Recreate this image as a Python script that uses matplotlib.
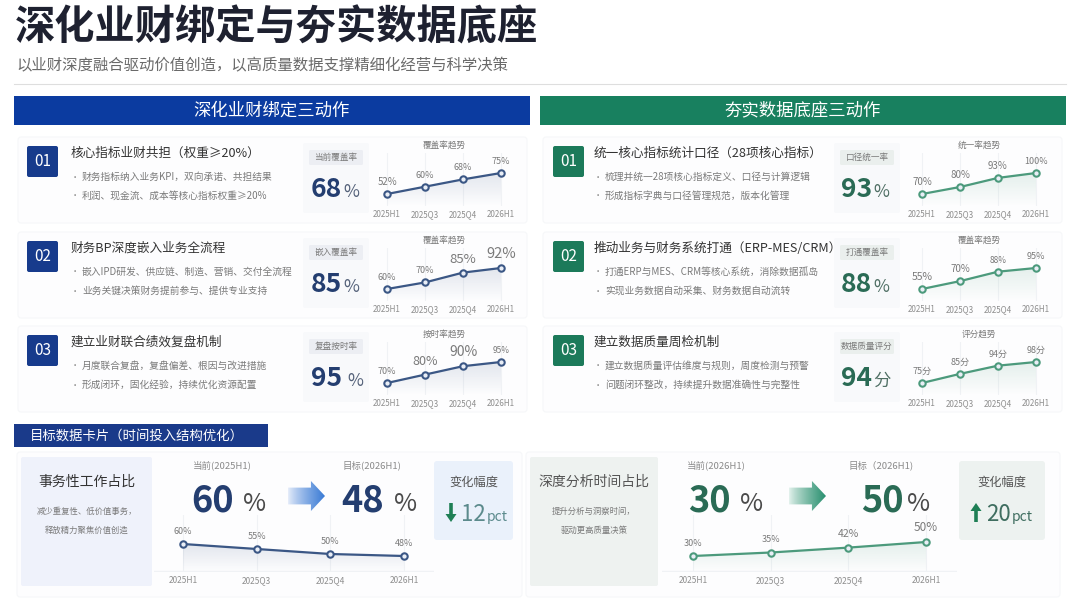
import numpy as np
import matplotlib
matplotlib.use('Agg')
import matplotlib.pyplot as plt
from matplotlib.patches import Rectangle, FancyBboxPatch, Polygon, FancyArrow
from matplotlib.colors import to_rgb

plt.rcParams['font.family'] = ['Noto Sans CJK SC', 'DejaVu Sans']

# ---- data ----
periods = ['2025H1', '2025Q3', '2025Q4', '2026H1']

left_titles = ['核心指标业财共担（权重≥20%）', '财务BP深度嵌入业务全流程', '建立业财联合绩效复盘机制']
left_bullets = [['财务指标纳入业务KPI，双向承诺、共担结果', '利润、现金流、成本等核心指标权重≥20%'],
                ['嵌入IPD研发、供应链、制造、营销、交付全流程', '业务关键决策财务提前参与、提供专业支持'],
                ['月度联合复盘，复盘偏差、根因与改进措施', '形成闭环，固化经验，持续优化资源配置']]
left_metric_names = ['当前覆盖率', '嵌入覆盖率', '复盘按时率']
left_metric_values = [68, 85, 95]
left_trend_titles = ['覆盖率趋势', '覆盖率趋势', '按时率趋势']
left_trends = [[52, 60, 68, 75], [60, 70, 85, 92], [70, 80, 90, 95]]

right_titles = ['统一核心指标统计口径（28项核心指标）', '推动业务与财务系统打通（ERP-MES/CRM）', '建立数据质量周检机制']
right_bullets = [['梳理并统一28项核心指标定义、口径与计算逻辑', '形成指标字典与口径管理规范，版本化管理'],
                 ['打通ERP与MES、CRM等核心系统，消除数据孤岛', '实现业务数据自动采集、财务数据自动流转'],
                 ['建立数据质量评估维度与规则，周度检测与预警', '问题闭环整改，持续提升数据准确性与完整性']]
right_metric_names = ['口径统一率', '打通覆盖率', '数据质量评分']
right_metric_values = [93, 88, 94]
right_units = ['%', '%', '分']
right_trend_titles = ['统一率趋势', '覆盖率趋势', '评分趋势']
right_trends = [[70, 80, 93, 100], [55, 70, 88, 95], [75, 85, 94, 98]]

routine_share = [60, 55, 50, 48]     # 事务性工作占比
analysis_share = [30, 35, 42, 50]    # 深度分析时间占比

# ---- colors ----
blue_head = '#0b3ba0'
blue_badge = '#173b8c'
blue_num = '#243e70'
blue_line = '#3b5785'
green_head = '#18805f'
green_badge = '#1c7a5a'
green_num = '#2a6b55'
green_line = '#4c9a7c'
gray_txt = '#7a7a7a'

W, H = 1080, 607
fig = plt.figure(figsize=(W / 100, H / 100), dpi=100)
bg = fig.add_axes([0, 0, 1, 1])
bg.set_autoscale_on(False)
bg.set_xlim(0, W)
bg.set_ylim(H, 0)
bg.axis('off')


def px_axes(x0, y0, x1, y1):
    return fig.add_axes([x0 / W, 1 - y1 / H, (x1 - x0) / W, (y1 - y0) / H])


def box(x0, y0, x1, y1, color, ec='none', rad=0, z=1):
    if rad:
        p = FancyBboxPatch((x0 + rad, y0 + rad), x1 - x0 - 2 * rad, y1 - y0 - 2 * rad,
                           boxstyle='round,pad=%g' % rad, fc=color, ec=ec, lw=0.8, zorder=z)
    else:
        p = Rectangle((x0, y0), x1 - x0, y1 - y0, fc=color, ec=ec, lw=0.8, zorder=z)
    bg.add_patch(p)


def grad_arrow(x0, x1, yc, h, c0, c1):
    w = x1 - x0
    verts = [(x0, yc - h * 0.28), (x0 + w * 0.62, yc - h * 0.28), (x0 + w * 0.62, yc - h * 0.5),
             (x1, yc), (x0 + w * 0.62, yc + h * 0.5), (x0 + w * 0.62, yc + h * 0.28),
             (x0, yc + h * 0.28)]
    poly = Polygon(verts, closed=True, fc='none', ec='none')
    bg.add_patch(poly)
    n = 100
    a, b = np.array(to_rgb(c0)), np.array(to_rgb(c1))
    t = np.linspace(0, 1, n) ** 0.8
    img = (a[None, :] * (1 - t[:, None]) + b[None, :] * t[:, None])[None, :, :]
    im = bg.imshow(img, extent=(x0, x1, yc + h / 2, yc - h / 2), aspect='auto', zorder=3)
    im.set_clip_path(poly)


def trend(x0, step, top, bottom, px_lo, px_hi, values, color, unit='%',
          sizes=None, tick_size=5.8, baseline=False, off=5):
    n = len(values)
    ax = px_axes(x0 - 0.4 * step, top, x0 + (n - 1 + 0.4) * step, bottom)
    vmin, vmax = min(values), max(values)
    k = (vmax - vmin) / (px_lo - px_hi)
    lo, hi = vmin - (bottom - px_lo) * k, vmax + (px_hi - top) * k
    xs = np.arange(n)
    for x in xs:
        ax.axvline(x, color='#f0f2f5', lw=0.8, zorder=0)
    if baseline:
        ax.axhline(lo + (hi - lo) * 0.01, color='#f0f2f5', lw=1.0, zorder=0)
    # soft gradient under the line
    verts = [(xs[0], lo)] + list(zip(xs, values)) + [(xs[-1], lo)]
    poly = Polygon(verts, closed=True, fc='none', ec='none')
    ax.add_patch(poly)
    rgba = np.zeros((100, 1, 4))
    rgba[..., :3] = to_rgb(color)
    rgba[..., 3] = np.linspace(0, 0.14, 100)[:, None]
    im = ax.imshow(rgba, extent=(xs[0], xs[-1], lo, vmax), aspect='auto', origin='lower', zorder=1)
    im.set_clip_path(poly)
    ax.plot(xs, values, color=color, lw=1.6, marker='o', ms=4.6, mfc='#e9eef6',
            mec=color, mew=1.5, zorder=3)
    if sizes is None:
        sizes = [6.5] * n
    for x, v, s in zip(xs, values, sizes):
        ax.annotate(f'{v}{unit}', (x, v), xytext=(0, off), textcoords='offset points',
                    ha='center', va='bottom', fontsize=s, color=gray_txt)
    ax.set_xlim(-0.4, n - 1 + 0.4)
    ax.set_ylim(lo, hi)
    ax.set_xticks(xs, periods, fontsize=tick_size, color='#8e8e8e')
    ax.tick_params(length=0, pad=3)
    ax.set_yticks([])
    for s in ax.spines.values():
        s.set_visible(False)
    ax.patch.set_alpha(0)
    return ax


# ---- title ----
bg.text(15, 28, '深化业财绑定与夯实数据底座', fontsize=29, fontweight='bold',
        color='#1e2130', va='center')
bg.text(16, 66, '以业财深度融合驱动价值创造，以高质量数据支撑精细化经营与科学决策',
        fontsize=11.1, color='#6a6a6a', va='center')
bg.plot([14, 1066], [84, 84], color='#dedede', lw=0.8)

# ---- section headers ----
box(14, 96, 530, 125, blue_head)
bg.text(272, 110.5, '深化业财绑定三动作', color='white', fontsize=12.5, ha='center', va='center')
box(540, 96, 1066, 125, green_head)
bg.text(803, 110.5, '夯实数据底座三动作', color='white', fontsize=12.5, ha='center', va='center')

row_y = [161, 256, 350]
left_sizes = [[7, 6.5, 6.5, 6.5], [6.5, 6.5, 9.5, 10.5], [6.5, 9, 10, 6]]
right_sizes = [[7, 7, 7, 6.5], [7.5, 7, 6, 6.5], [6.5, 6.5, 6.5, 6.5]]

sides = [
    dict(x0=18, x1=527, bx=27, tx=71, mp=303, mx=336, nr=342, cx=387,
         head=blue_badge, num=blue_num, line=blue_line, titles=left_titles,
         bullets=left_bullets, names=left_metric_names, vals=left_metric_values,
         units=['%', '%', '%'], ttitles=left_trend_titles, trends=left_trends,
         sizes=left_sizes, tunits=['%', '%', '%'], label_bg='#eceef3', ucol='#55627a'),
    dict(x0=543, x1=1062, bx=553, tx=594, mp=834, mx=867, nr=872, cx=922,
         head=green_badge, num=green_num, line=green_line, titles=right_titles,
         bullets=right_bullets, names=right_metric_names, vals=right_metric_values,
         units=right_units, ttitles=right_trend_titles, trends=right_trends,
         sizes=right_sizes, tunits=['%', '%', '分'], label_bg='#eaefed', ucol='#4f6f64'),
]

for sd in sides:
    for i, ry in enumerate(row_y):
        box(sd['x0'], ry - 24, sd['x1'], ry + 62, '#fdfdfe', ec='#f6f7f9', rad=3, z=0)
        box(sd['bx'], ry - 15, sd['bx'] + 31, ry + 16, sd['head'], rad=2)
        bg.text(sd['bx'] + 15.5, ry + 0.5, f'0{i + 1}', color='white', fontsize=11,
                ha='center', va='center', zorder=3)
        bg.text(sd['tx'], ry - 8, sd['titles'][i], fontsize=9.1, color='#333333', va='center')
        for j, b in enumerate(sd['bullets'][i]):
            yb = ry + 16 + j * 19
            bg.text(sd['tx'] + 4, yb, '•', fontsize=6, color='#888888', va='center', ha='center')
            bg.text(sd['tx'] + 11, yb, b, fontsize=7, color=gray_txt, va='center')
        # metric card
        box(sd['mp'], ry - 18, sd['mp'] + 66, ry + 52, '#f8f9fb', rad=2)
        box(sd['mx'] - 27, ry - 11, sd['mx'] + 27, ry + 4, sd['label_bg'], rad=1.5, z=2)
        bg.text(sd['mx'], ry - 3.5, sd['names'][i], fontsize=6.2, color='#7a7a7a',
                ha='center', va='center', zorder=3)
        gap = 5 if (sd is sides[0] and i == 2) else 1.5
        bg.text(sd['nr'], ry + 36, str(sd['vals'][i]), fontsize=19, fontweight='bold',
                color=sd['num'], ha='right', va='baseline', zorder=3)
        bg.text(sd['nr'] + gap, ry + 36, sd['units'][i], fontsize=12.5, color=sd['ucol'],
                ha='left', va='baseline', zorder=3)
        # trend chart
        bg.text(sd['cx'] + 57, ry - 16, sd['ttitles'][i], fontsize=6.2, color='#7a7a7a',
                ha='center', va='center')
        trend(sd['cx'], 38, ry - 8, ry + 45, ry + 33, ry + 12, sd['trends'][i], sd['line'],
              unit=sd['tunits'][i], sizes=sd['sizes'][i])

# ---- bottom section ----
box(14, 424, 268, 447, '#1a3a8a')
bg.text(30, 435.5, '目标数据卡片（时间投入结构优化）', color='white', fontsize=9.6, va='center')

cards = [
    dict(ox0=17, ox1=522, cx0=21, cx1=152, fc='#eff2fb', title='事务性工作占比',
         tcol='#333333', notes=['减少重复性、低价值事务，', '释放精力聚焦价值创造'],
         cur='当前(2025H1)', tgt='目标(2026H1)', curx=222, tgtx=372,
         n1r=234, n2r=384, u1=243, u2=394, ax0=288, ax1=325, a0='#e8eefa', a1='#3a7bd5',
         ch0=434, ch1=513, chfc='#eaf1fb', num=blue_num, data=routine_share,
         line=blue_line, px0=183, step=73.7, chcol='#5b8a8c', arrow='#1e7f55'),
    dict(ox0=526, ox1=1060, cx0=530, cx1=658, fc='#eef2f0', title='深度分析时间占比',
         tcol='#555555', notes=['提升分析与洞察时间，', '驱动更高质量决策'],
         cur='当前(2026H1)', tgt='目标（2026H1)', curx=716, tgtx=881,
         n1r=731, n2r=904, u1=740, u2=907, ax0=789, ax1=826, a0='#e6f3ee', a1='#2a9070',
         ch0=959, ch1=1045, chfc='#edf2f0', num=green_num, data=analysis_share,
         line=green_line, px0=693, step=77.7, chcol='#3f6e60', arrow='#1e7f55'),
]

for c in cards:
    box(c['ox0'], 452, c['ox1'], 597, '#fdfdfe', ec='#f6f7f9', rad=3, z=0)
    box(c['cx0'], 457, c['cx1'], 586, c['fc'], rad=2)
    mid = (c['cx0'] + c['cx1']) / 2
    bg.text(mid, 482, c['title'], fontsize=10, color=c['tcol'], ha='center', va='center')
    bg.text(mid, 511, c['notes'][0], fontsize=6, color=gray_txt, ha='center', va='center')
    bg.text(mid, 530, c['notes'][1], fontsize=6, color=gray_txt, ha='center', va='center')
    bg.text(c['curx'], 465, c['cur'], fontsize=6.8, color='#8a8a8a', ha='center', va='center')
    bg.text(c['tgtx'], 465, c['tgt'], fontsize=6.8, color='#8a8a8a', ha='center', va='center')
    d = c['data']
    bg.text(c['n1r'], 511, str(d[0]), fontsize=26, fontweight='bold', color=c['num'],
            ha='right', va='baseline')
    bg.text(c['u1'], 511, '%', fontsize=18, color='#4a4a4a', ha='left', va='baseline')
    bg.text(c['n2r'], 511, str(d[-1]), fontsize=26, fontweight='bold', color=c['num'],
            ha='right', va='baseline')
    bg.text(c['u2'], 511, '%', fontsize=18, color='#4a4a4a', ha='left', va='baseline')
    grad_arrow(c['ax0'], c['ax1'], 496, 30, c['a0'], c['a1'])
    # change box
    box(c['ch0'], 461, c['ch1'], 540, c['chfc'], rad=3)
    cm = (c['ch0'] + c['ch1']) / 2
    bg.text(cm, 482, '变化幅度', fontsize=8.8, color='#555555', ha='center', va='center')
    diff = d[-1] - d[0]
    ax_x = c['ch0'] + 17
    if diff < 0:
        bg.add_patch(FancyArrow(ax_x, 503, 0, 19, width=3.6, head_width=11, head_length=8,
                                length_includes_head=True, fc=c['arrow'], ec='none', zorder=3))
    else:
        bg.add_patch(FancyArrow(ax_x, 522, 0, -19, width=3.6, head_width=11, head_length=8,
                                length_includes_head=True, fc=c['arrow'], ec='none', zorder=3))
    bg.text(ax_x + 10, 521, str(abs(diff)), fontsize=16, color=c['chcol'],
            ha='left', va='baseline')
    bg.text(ax_x + 36, 521, 'pct', fontsize=10, color=c['chcol'], ha='left', va='baseline')

trend(cards[0]['px0'], cards[0]['step'], 515, 572, 556, 544, routine_share, blue_line,
      sizes=[6.5] * 4, tick_size=6, baseline=True, off=6)
trend(cards[1]['px0'], cards[1]['step'], 515, 572, 556, 542, analysis_share, green_line,
      sizes=[6.5, 6.5, 7.5, 8.5], tick_size=6, baseline=True, off=6)

fig.savefig('out.png', dpi=100, facecolor='white')
